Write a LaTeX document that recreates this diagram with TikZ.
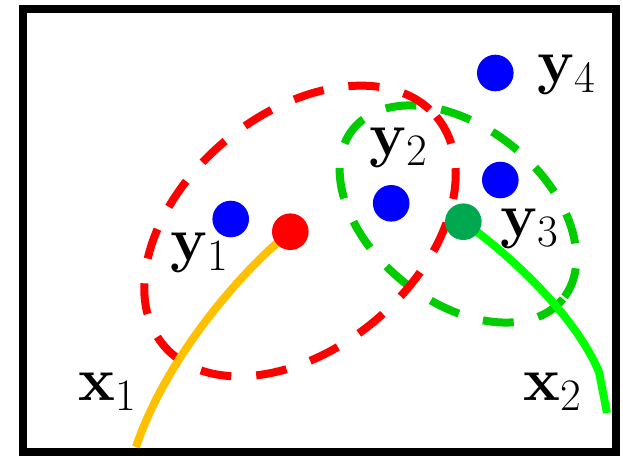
\documentclass[tikz,border=0pt]{standalone}
\usepackage{fontspec}
\usepackage{tikz}
\usepackage{xcolor}

\definecolor{gold}{RGB}{255,192,0}
\definecolor{limegreen}{RGB}{0,255,0}
\definecolor{dashgreen}{RGB}{0,204,0}
\definecolor{darkgreen}{RGB}{0,168,80}

% bold letter with a lowered index
\newcommand{\vlab}[2]{\textbf{#1}\raisebox{-10pt}{\fontsize{45}{48}\selectfont #2}}

\begin{document}
\begin{tikzpicture}[x=1pt,y=-1pt,
    spot/.style={circle,inner sep=0pt,minimum size=36.6pt},
    lab/.style={inner sep=0pt,anchor=base west,font=\fontsize{62}{70}\selectfont},
    ring/.style={line width=8pt,dash pattern=on 31pt off 25pt},
    track/.style={line width=8pt}]
    \useasboundingbox (0,0) rectangle (623,455);

    % Frame
    \draw[line width=8pt] (23,8.5) rectangle (615.5,451.5);

    % Dashed regions
    \draw[ring,dashgreen,rotate around={-39:(458,214)}] (458,214) ellipse [x radius=135,y radius=87];
    \draw[ring,red,rotate around={40:(300,231)}] (300,231) ellipse [x radius=178,y radius=117];

    % Curves
    \coordinate (c1) at (290.3,231.7);
    \coordinate (c2) at (463.3,221.7);
    \coordinate (e1) at (136,447);
    \coordinate (k2) at (599,372);
    \coordinate (e2) at (607,413);
    \draw[track,gold] (c1) .. controls (240,272) and (165,360) .. (e1);
    \draw[track,limegreen] (c2) .. controls (510,255) and (575,315) .. (k2) -- (e2);

    % Nodes
    \node[spot,fill=blue] (y1) at (230.7,219) {};
    \node[spot,fill=blue] (y2) at (391.2,203.3) {};
    \node[spot,fill=blue] (y3) at (500.3,180) {};
    \node[spot,fill=blue] (y4) at (495.3,73) {};
    \node[spot,fill=red] (p1) at (c1) {};
    \node[spot,fill=darkgreen] (p2) at (c2) {};

    % Labels
    \node[lab] (ly1) at (170,260) {\vlab{y}{1}};
    \node[lab] (ly2) at (369,155) {\vlab{y}{2}};
    \node[lab] (ly3) at (500,236) {\vlab{y}{3}};
    \node[lab] (ly4) at (537,82) {\vlab{y}{4}};
    \node[lab] (lx1) at (78,400) {\vlab{x}{1}};
    \node[lab] (lx2) at (523,400) {\vlab{x}{2}};
\end{tikzpicture}
\end{document}
